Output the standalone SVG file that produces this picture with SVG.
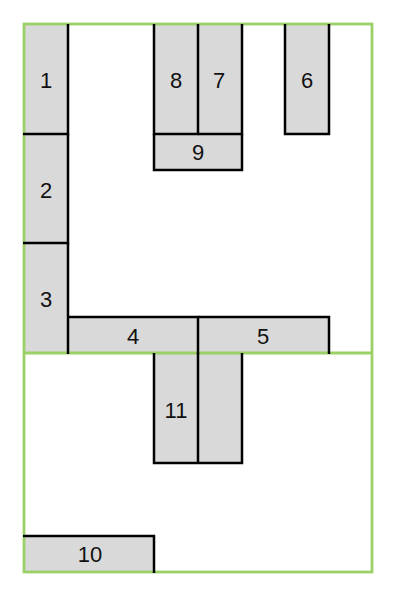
<svg xmlns="http://www.w3.org/2000/svg" width="404" height="600" viewBox="0 0 404 600">
<style>
.f{fill:#d9d9d9;stroke:none}
.b{fill:none;stroke:#000;stroke-width:2.5}
.g{fill:none;stroke:#9bd066;stroke-width:2.8}
text{font-family:"Liberation Sans",Arial,sans-serif;font-size:22px;fill:#111;text-anchor:middle;dominant-baseline:central}
</style>
<rect width="404" height="600" fill="#fff"/>
<g id="fills">
<rect class="f" x="24" y="24" width="44" height="329"/>
<rect class="f" x="154" y="24" width="88" height="146"/>
<rect class="f" x="285" y="24" width="44" height="110"/>
<rect class="f" x="68" y="317" width="261" height="36"/>
<rect class="f" x="154" y="353" width="88" height="110"/>
<rect class="f" x="24" y="536" width="130" height="36"/>
</g>
<g id="border">
<rect class="g" x="24" y="24" width="348" height="548"/>
<line class="g" x1="24" y1="353" x2="372" y2="353"/>
</g>
<g id="connectors"></g>
<g id="n1"><path class="b" d="M68 24V134H23"/><text x="46" y="80">1</text></g>
<g id="n2"><path class="b" d="M68 134V243H23"/><text x="46" y="190">2</text></g>
<g id="n3"><path class="b" d="M68 243V354"/><text x="46" y="299">3</text></g>
<g id="n8"><path class="b" d="M154 24V134H198V24"/><text x="176" y="80">8</text></g>
<g id="n7"><path class="b" d="M198 134H242V24"/><text x="219" y="80">7</text></g>
<g id="n9"><path class="b" d="M154 134V170H242V134"/><text x="198" y="152">9</text></g>
<g id="n6"><path class="b" d="M285 24V134H329V24"/><text x="307" y="80">6</text></g>
<g id="n4"><path class="b" d="M68 317H198V354"/><text x="133" y="336">4</text></g>
<g id="n5"><path class="b" d="M198 317H329V354"/><text x="263" y="336">5</text></g>
<g id="n11"><path class="b" d="M154 353V463H242V353M198 353V463"/><text x="176" y="410">11</text></g>
<g id="n10"><path class="b" d="M23 536H154V573"/><text x="90" y="554">10</text></g>
</svg>
